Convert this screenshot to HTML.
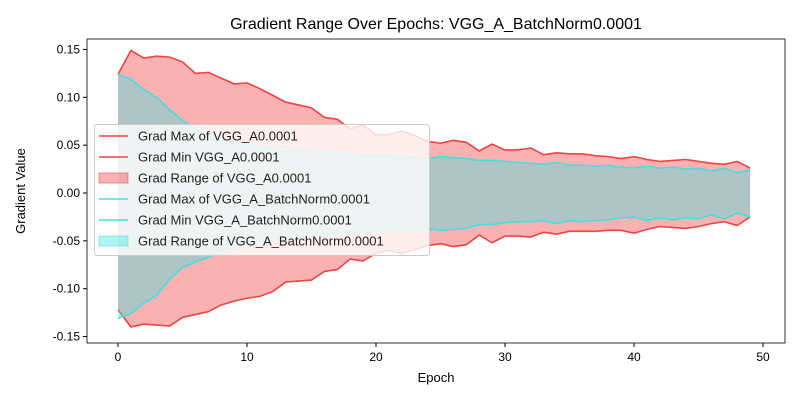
<!DOCTYPE html>
<html><head><meta charset="utf-8"><style>
body{margin:0;background:#fff}
svg{font-family:"Liberation Sans","DejaVu Sans",sans-serif}
</style></head><body>
<svg id="chart" width="800" height="400" xmlns="http://www.w3.org/2000/svg">
<rect width="800" height="400" fill="#fff"/>
<g id="plot"></g>
</svg>
<script>
const epochs = Array.from({length:50},(_,i)=>i);
const redMax=[0.124,0.149,0.141,0.143,0.142,0.137,0.125,0.126,0.120,0.114,0.115,0.109,0.102,0.095,0.092,0.089,0.079,0.077,0.067,0.071,0.061,0.061,0.065,0.060,0.054,0.052,0.055,0.053,0.044,0.051,0.045,0.045,0.047,0.040,0.042,0.041,0.041,0.039,0.038,0.036,0.038,0.035,0.033,0.034,0.035,0.033,0.031,0.030,0.033,0.026];
const redMin=[-0.122,-0.140,-0.137,-0.138,-0.139,-0.130,-0.127,-0.124,-0.117,-0.113,-0.110,-0.108,-0.103,-0.093,-0.092,-0.091,-0.082,-0.080,-0.069,-0.071,-0.063,-0.060,-0.063,-0.059,-0.055,-0.053,-0.056,-0.054,-0.044,-0.052,-0.045,-0.045,-0.046,-0.041,-0.043,-0.040,-0.040,-0.040,-0.039,-0.039,-0.042,-0.038,-0.035,-0.036,-0.037,-0.035,-0.032,-0.030,-0.034,-0.025];
const cyanMax=[0.124,0.119,0.108,0.100,0.087,0.076,0.067,0.060,0.055,0.052,0.050,0.048,0.047,0.045,0.044,0.044,0.042,0.040,0.041,0.039,0.039,0.039,0.036,0.035,0.036,0.038,0.037,0.036,0.034,0.034,0.033,0.032,0.031,0.030,0.032,0.029,0.029,0.028,0.029,0.027,0.026,0.028,0.026,0.027,0.025,0.026,0.023,0.026,0.021,0.024];
const cyanMin=[-0.131,-0.126,-0.115,-0.107,-0.090,-0.078,-0.072,-0.067,-0.061,-0.057,-0.054,-0.051,-0.049,-0.047,-0.045,-0.044,-0.043,-0.042,-0.040,-0.040,-0.039,-0.038,-0.038,-0.036,-0.037,-0.039,-0.038,-0.037,-0.033,-0.033,-0.031,-0.030,-0.030,-0.029,-0.032,-0.029,-0.030,-0.029,-0.028,-0.026,-0.025,-0.029,-0.026,-0.028,-0.026,-0.027,-0.023,-0.027,-0.021,-0.025];
const xTicks=[0,10,20,30,40,50];
const yTicks=[0.15,0.10,0.05,0.00,-0.05,-0.10,-0.15];
const legendLabels=["Grad Max of VGG_A0.0001","Grad Min VGG_A0.0001","Grad Range of VGG_A0.0001","Grad Max of VGG_A_BatchNorm0.0001","Grad Min VGG_A_BatchNorm0.0001","Grad Range of VGG_A_BatchNorm0.0001"];

const L=87,R=785,T=39,B=343;
const xs=v=>118+v*12.9;
const ys=v=>193-v*957;
const NS="http://www.w3.org/2000/svg";
const g=document.getElementById('plot');
function mk(tag,attrs,parent){const e=document.createElementNS(NS,tag);for(const k in attrs)e.setAttribute(k,attrs[k]);(parent||g).appendChild(e);return e;}
function band(hi,lo,fill,name){
  let d='M'+epochs.map(i=>xs(i)+','+ys(hi[i])).join('L');
  d+='L'+epochs.slice().reverse().map(i=>xs(i)+','+ys(lo[i])).join('L')+'Z';
  const p=mk('path',{d:d,fill:fill});
  
  
}
function line(arr,color,name){
  const p=mk('polyline',{points:epochs.map(i=>xs(i)+','+ys(arr[i])).join(' '),fill:'none',stroke:color,'stroke-width':1.6});
  
  
}
band(redMax,redMin,'rgba(240,60,60,0.4)','vgg-a-range-area');
line(redMax,'#ee4444','vgg-a-max-line');
line(redMin,'#ee4444','vgg-a-min-line');
band(cyanMax,cyanMin,'rgba(64,224,224,0.4)','vgg-a-bn-range-area');
line(cyanMax,'#44e0e0','vgg-a-bn-max-line');
line(cyanMin,'#44e0e0','vgg-a-bn-min-line');

const frame=mk('rect',{x:L,y:T,width:R-L,height:B-T,fill:'none',stroke:'#000','stroke-width':0.8});


xTicks.forEach(t=>{
  mk('line',{x1:xs(t),x2:xs(t),y1:B,y2:B+4,stroke:'#000'});
  const tx=mk('text',{x:xs(t),y:B+18,'font-size':12,'text-anchor':'middle'});tx.textContent=t;
  
  
});
yTicks.forEach(t=>{
  mk('line',{x1:L-4,x2:L,y1:ys(t),y2:ys(t),stroke:'#000'});
  const tx=mk('text',{x:L-7,y:ys(t)+4,'font-size':12,'text-anchor':'end'});tx.textContent=t.toFixed(2);
  
  
});
const title=mk('text',{x:436,y:29,'font-size':16,'text-anchor':'middle'});title.textContent='Gradient Range Over Epochs: VGG_A_BatchNorm0.0001';


const xl=mk('text',{x:436,y:382,'font-size':13,'text-anchor':'middle'});xl.textContent='Epoch';


const yl=mk('text',{x:0,y:0,'font-size':13,'text-anchor':'middle',transform:'translate(25,191) rotate(-90)'});yl.textContent='Gradient Value';



const lg=mk('g',{});


mk('rect',{x:94.5,y:124.5,width:335,height:131,rx:3,fill:'rgba(255,255,255,0.8)',stroke:'#ccc'},lg);
legendLabels.forEach((lab,i)=>{
  const y=136+i*21;
  const red=i<3;
  if(i%3==2){mk('rect',{x:99,y:y-5,width:29,height:10,fill:red?'rgba(240,60,60,0.4)':'rgba(64,224,224,0.4)',stroke:red?'rgba(240,60,60,0.5)':'rgba(64,224,224,0.5)'},lg);}
  else mk('line',{x1:99,x2:128,y1:y,y2:y,stroke:red?'#ee4444':'#44e0e0','stroke-width':1.6},lg);
  const t=mk('text',{x:138,y:y+4.5,'font-size':13,fill:'#222'},lg);t.textContent=lab;
  
  
});
</script>
</body></html>
